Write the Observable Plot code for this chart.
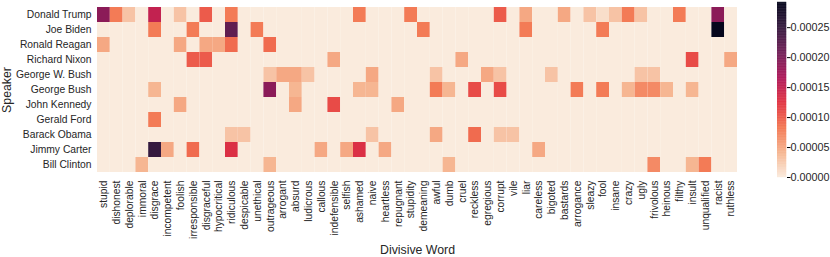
<!DOCTYPE html>
<html><head><meta charset="utf-8">
<script src="https://cdn.jsdelivr.net/npm/d3@7"></script>
<script src="https://cdn.jsdelivr.net/npm/@observablehq/plot@0.6"></script>
<style>
body{margin:0;background:#fff;}
#wrap{position:relative;width:830px;height:257px;overflow:hidden;}
#wrap svg{position:absolute;top:0;max-width:none !important;}
#wrap svg text{font-family:"Liberation Sans", Arial, sans-serif !important;font-size:10.3px !important;fill:#262626;}
#wrap svg.cbar text{font-size:10.8px !important;}
#wrap svg g[aria-label="x-axis label"] text,
#wrap svg g[aria-label="y-axis label"] text{font-size:12.3px !important;}
</style></head><body><div id="wrap"></div>
<script>
const speakers = ["Donald Trump","Joe Biden","Ronald Reagan","Richard Nixon","George W. Bush","George Bush","John Kennedy","Gerald Ford","Barack Obama","Jimmy Carter","Bill Clinton"];
const words = ["stupid","dishonest","deplorable","immoral","disgrace","incompetent","foolish","irresponsible","disgraceful","hypocritical","ridiculous","despicable","unethical","outrageous","arrogant","absurd","ludicrous","callous","indefensible","selfish","ashamed","naive","heartless","repugnant","stupidity","demeaning","awful","dumb","cruel","reckless","egregious","corrupt","vile","liar","careless","bigoted","bastards","arrogance","sleazy","fool","insane","crazy","ugly","frivolous","heinous","filthy","insult","unqualified","racist","ruthless"];
// values in units of 1e-5, one entry per word (same order as words)
const donaldTrump  = [19,8,3,0,15,0,3,0,10,0,8,0,0,0,0,0,0,0,0,0,8,0,0,0,8,0,0,0,0,0,0,10,0,5,0,0,5,0,3,1,3,8,3,0,0,8,0,0,19,0];
const joeBiden     = [0,0,0,0,8,0,0,8,0,0,22,0,8,0,0,0,0,0,0,0,0,0,0,0,0,8,0,0,0,0,0,0,0,8,0,0,0,0,0,8,0,0,0,0,0,0,0,0,29,0];
const ronaldReagan = [5,0,0,0,0,0,5,0,5,5,9,0,0,9,0,0,0,0,0,0,0,0,0,0,0,0,0,0,0,0,0,0,0,0,0,0,0,0,0,0,0,0,0,0,0,0,0,0,0,0];
const richardNixon = [0,0,0,0,0,0,0,10,10,0,0,0,0,0,0,0,0,0,5,0,0,0,0,0,0,0,0,0,5,0,0,0,0,0,0,0,0,0,0,0,0,0,0,0,0,0,11,0,0,5];
const georgeWBush  = [0,0,0,0,0,0,0,0,0,0,0,0,0,3,5,5,3,0,0,0,0,5,0,0,0,0,3,0,0,0,5,3,0,0,0,3,0,0,0,0,0,0,3,3,0,0,0,0,0,0];
const georgeBush   = [0,0,0,0,4,0,0,0,0,0,0,0,0,19,0,4,0,0,0,0,4,4,0,0,0,0,8,4,0,11,0,11,0,0,0,0,0,8,0,8,0,4,7,7,4,0,4,0,0,0];
const johnKennedy  = [0,0,0,0,0,0,5,0,0,0,0,0,0,0,0,5,0,0,11,0,0,0,0,5,0,0,0,0,0,0,0,0,0,0,0,0,0,0,0,0,0,0,0,0,0,0,0,0,0,0];
const geraldFord   = [0,0,0,0,8,0,0,0,0,0,0,0,0,0,0,0,0,0,0,0,0,0,0,0,0,0,0,0,0,0,0,0,0,0,0,0,0,0,0,0,0,0,0,0,0,0,0,0,0,0];
const barackObama  = [0,0,0,0,0,0,0,0,0,0,3,3,0,0,0,0,0,0,0,0,0,3,0,0,0,0,5,0,0,9,0,3,3,0,0,0,0,0,0,0,0,0,0,0,0,0,0,0,0,0];
const jimmyCarter  = [0,0,0,0,25,5,0,9,0,0,13,0,0,0,0,0,0,5,0,5,13,0,5,0,0,0,0,0,0,0,0,0,0,0,5,0,0,0,0,0,0,0,0,0,0,0,0,0,0,0];
const billClinton  = [0,0,0,4,0,0,0,0,0,0,0,0,0,4,0,0,0,0,0,0,0,0,0,0,0,0,0,4,0,0,0,0,0,0,0,0,0,0,0,0,0,0,0,7,0,0,4,8,0,0];
const rows = [donaldTrump,joeBiden,ronaldReagan,richardNixon,georgeWBush,georgeBush,johnKennedy,geraldFord,barackObama,jimmyCarter,billClinton];
const colorbarTicks = [0,0.00005,0.0001,0.00015,0.0002,0.00025];
const maxValue = 0.000292;
const rocketR = ["#faebdd","#f6b48f","#f37651","#e13342","#ad1759","#701f57","#35193e","#03051a"];

const cells = [];
speakers.forEach((s,i)=>words.forEach((w,j)=>cells.push({speaker:s, word:w, value:rows[i][j]*1e-5})));
const colorScale = {type:"linear", domain:[0,maxValue], interpolate:d3.piecewise(d3.interpolateRgb, rocketR)};

const heat = Plot.plot({
  width:830, height:257,
  marginTop:2, marginBottom:80, marginLeft:97, marginRight:93,
  style:{background:"transparent"},
  x:{domain:words, padding:0},
  y:{domain:speakers, padding:0},
  color:colorScale,
  marks:[
    Plot.cell(cells,{x:"word", y:"speaker", fill:"value", inset:0}),
    Plot.axisX({anchor:"bottom", tickRotate:-90, tickSize:0, tickPadding:3, label:"Divisive Word", labelAnchor:"center", labelOffset:76}),
    Plot.axisY({anchor:"left", tickSize:0, tickPadding:6, label:"Speaker", labelAnchor:"center", labelOffset:95})
  ]
});
heat.style.left = "0px";
document.getElementById("wrap").appendChild(heat);

const nb = 240;
const bins = d3.range(nb).map(i=>({y1:i*maxValue/nb, y2:(i+1)*maxValue/nb, v:(i+0.5)*maxValue/nb}));
const bar = Plot.plot({
  width:53, height:257,
  marginTop:2, marginBottom:80, marginLeft:0, marginRight:44,
  style:{background:"transparent"},
  y:{domain:[0,maxValue]},
  color:colorScale,
  marks:[
    Plot.rect(bins,{y1:"y1", y2:"y2", fill:"v", stroke:"v", strokeWidth:0.4}),
    Plot.axisY({anchor:"right", ticks:colorbarTicks, tickFormat:d3.format(".5f"), tickSize:3.5, tickPadding:0.5, label:null})
  ]
});
bar.classList.add("cbar");
bar.style.left = "777px";
document.getElementById("wrap").appendChild(bar);
</script></body></html>
